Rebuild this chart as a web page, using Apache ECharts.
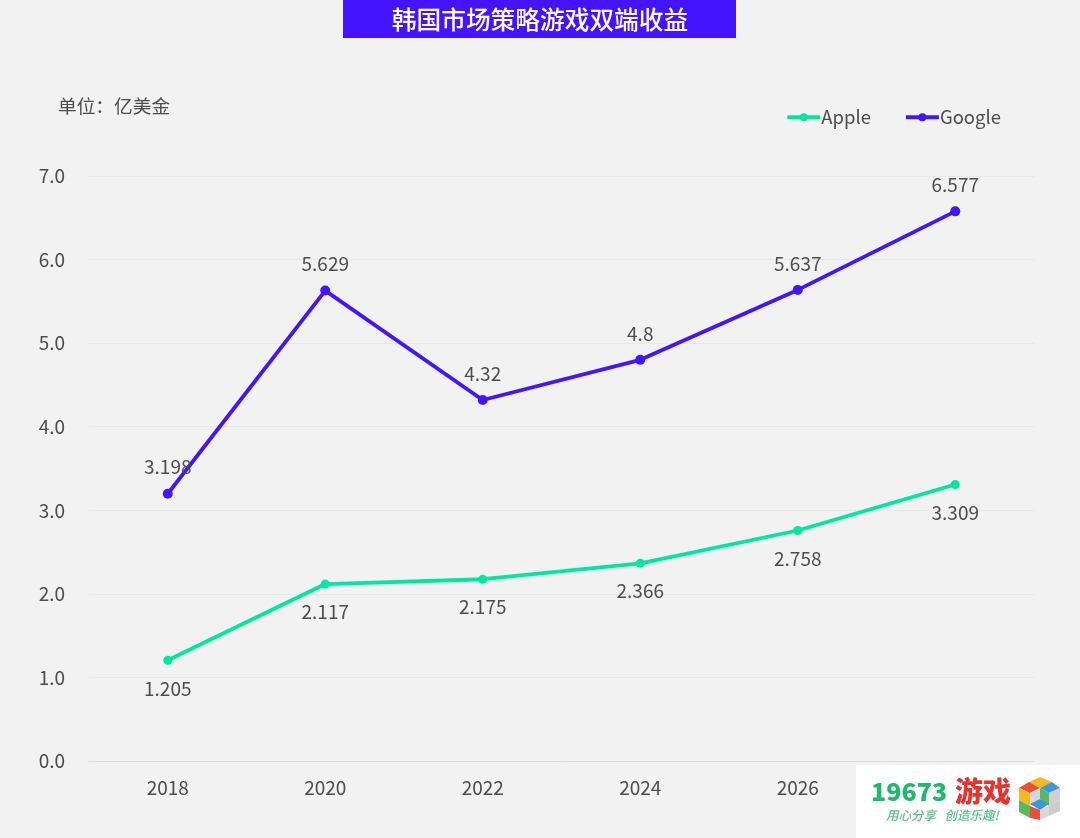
<!DOCTYPE html>
<html>
<head>
<meta charset="utf-8">
<style>
html, body { margin: 0; padding: 0; background: #f2f2f2; }
#main { width: 1080px; height: 838px; }
</style>
<script src="https://cdn.jsdelivr.net/npm/echarts@6/dist/echarts.min.js"></script>
</head>
<body>
<div id="main"></div>
<script>
var years = ['2018', '2020', '2022', '2024', '2026', '2028'];
var apple = [1.205, 2.117, 2.175, 2.366, 2.758, 3.309];
var google = [3.198, 5.629, 4.32, 4.8, 5.637, 6.577];
var titleText = '韩国市场策略游戏双端收益';
var unitText = '单位：亿美金';

var font = '"Noto Sans CJK SC", "Noto Sans", sans-serif';
var textColor = '#4d4d4d';

var chart = echarts.init(document.getElementById('main'), null, { renderer: 'canvas' });

function face(points, color) {
    return { type: 'polygon', z: 21, shape: { points: points }, style: { fill: color } };
}

var option = {
    backgroundColor: '#f2f2f2',
    animation: false,
    textStyle: { fontFamily: font },
    grid: { left: 89, right: 46, top: 176, bottom: 77 },
    legend: {
        right: 74,
        top: 103,
        itemWidth: 33,
        itemHeight: 10,
        itemGap: 33,
        lineStyle: { width: 3.8 },
        textStyle: { fontSize: 18.5, color: textColor, fontFamily: font, padding: [0, 0, 0, -4] },
        data: ['Apple', 'Google']
    },
    xAxis: {
        type: 'category',
        data: years,
        axisTick: { show: false },
        axisLine: { lineStyle: { color: '#dddddd', width: 1 } },
        axisLabel: { fontSize: 19, color: textColor, margin: 17, fontFamily: font }
    },
    yAxis: {
        type: 'value',
        min: 0,
        max: 7,
        interval: 1,
        axisLine: { show: false },
        axisTick: { show: false },
        splitLine: { lineStyle: { color: '#e8e8e8', width: 1 } },
        axisLabel: {
            fontSize: 19,
            color: textColor,
            margin: 24,
            padding: [0, 0, 6, 0],
            fontFamily: font,
            formatter: function (v) { return v.toFixed(1); }
        }
    },
    series: [
        {
            name: 'Apple',
            type: 'line',
            data: apple,
            symbol: 'circle',
            symbolSize: 9,
            lineStyle: { color: '#00e8a0', width: 3.8 },
            itemStyle: { color: '#00e8a0' },
            label: { show: true, position: 'bottom', distance: 14, fontSize: 19, color: textColor, fontFamily: font }
        },
        {
            name: 'Google',
            type: 'line',
            data: google,
            symbol: 'circle',
            symbolSize: 10,
            lineStyle: { color: '#4514ff', width: 3.8 },
            itemStyle: { color: '#4514ff' },
            label: { show: true, position: 'top', distance: 12, fontSize: 19, color: textColor, fontFamily: font }
        }
    ],
    graphic: [
        // title banner
        { type: 'rect', z: 10, shape: { x: 343, y: 0, width: 393, height: 38 }, style: { fill: '#4514ff' } },
        {
            type: 'text', z: 11, x: 540, y: 20,
            style: { text: titleText, fill: '#ffffff', font: '500 24.7px ' + font, textAlign: 'center', textVerticalAlign: 'middle' }
        },
        {
            type: 'text', z: 11, x: 58, y: 106,
            style: { text: unitText, fill: textColor, font: '18.7px ' + font, textAlign: 'left', textVerticalAlign: 'middle' }
        },
        // logo in the corner, covers the last year label
        { type: 'rect', z: 20, shape: { x: 856, y: 765, width: 224, height: 73 }, style: { fill: '#ffffff' } },
        {
            type: 'text', z: 21, x: 871, y: 791,
            style: { text: '19673', fill: '#1fb871', font: '900 25px ' + font, textAlign: 'left', textVerticalAlign: 'middle' }
        },
        {
            type: 'text', z: 21, x: 955, y: 791,
            style: { text: '游戏', fill: '#e3342f', font: '900 28px ' + font, textAlign: 'left', textVerticalAlign: 'middle' }
        },
        {
            type: 'text', z: 21, x: 886, y: 815,
            style: { text: '用心分享   创造乐趣!', fill: '#5cbd8c', font: 'italic 500 12.5px ' + font, textAlign: 'left', textVerticalAlign: 'middle' }
        },
        face([[1040, 777], [1052, 782], [1040, 788], [1029, 782]], '#f5b91e'),
        face([[1029, 782], [1040, 788], [1030, 793], [1019, 788]], '#e8503a'),
        face([[1052, 782], [1060, 788], [1049, 793], [1040, 788]], '#3a9ad9'),
        face([[1019, 788], [1030, 793], [1030, 806], [1019, 800]], '#f5b91e'),
        face([[1030, 793], [1040, 788], [1040, 799], [1030, 806]], '#d8d8d8'),
        face([[1040, 788], [1049, 793], [1049, 806], [1040, 799]], '#5cb85c'),
        face([[1049, 793], [1060, 788], [1060, 800], [1049, 806]], '#d0d0d0'),
        face([[1040, 799], [1049, 804], [1040, 810], [1030, 804]], '#3a9ad9'),
        face([[1019, 800], [1030, 806], [1030, 818], [1019, 812]], '#5cb85c'),
        face([[1030, 806], [1040, 810], [1040, 820], [1030, 818]], '#e8503a'),
        face([[1040, 810], [1049, 806], [1049, 816], [1040, 820]], '#d8d8d8'),
        face([[1049, 806], [1060, 800], [1060, 811], [1049, 816]], '#cccccc')
    ]
};

chart.setOption(option);
</script>
</body>
</html>
